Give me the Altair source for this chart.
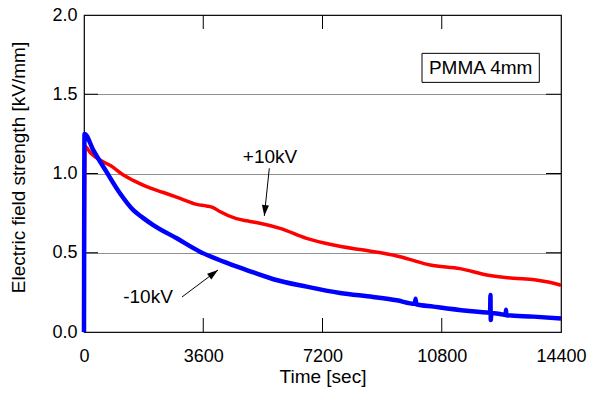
import altair as alt
import pandas as pd

# ---------------- data ----------------
red_t = [0, 30, 200, 480, 800, 1190, 1500, 1890, 2400, 2900, 3400, 3700, 3900,
         4100, 4600, 4950, 5310, 5920, 6720, 7530, 8330, 9040, 9540, 9800,
         10450, 11350, 12160, 12960, 13600, 13970, 14400]
red_e = [0.0, 1.17, 1.13, 1.085, 1.05, 0.99, 0.955, 0.917, 0.88, 0.843, 0.805, 0.795, 0.785,
         0.76, 0.715, 0.70, 0.686, 0.654, 0.591, 0.549, 0.52, 0.497, 0.475, 0.46,
         0.423, 0.40, 0.36, 0.339, 0.33, 0.317, 0.295]

blue_t = [0, 15, 280, 680, 1090, 1490, 1750, 2090, 2800, 3500, 4210, 4910, 5720,
          6720, 7730, 8730, 9440, 9990, 10010, 10030, 10550, 11550, 12260, 12270,
          12280, 12295, 12559, 12730, 12740, 12750, 13565, 14400]
blue_e = [0.0, 1.25, 1.148, 1.01, 0.874, 0.769, 0.725, 0.675, 0.591, 0.507, 0.444, 0.391, 0.333,
          0.286, 0.246, 0.221, 0.20, 0.178, 0.21, 0.175, 0.16, 0.134, 0.122, 0.233,
          0.076, 0.12, 0.114, 0.108, 0.14, 0.106, 0.097, 0.085]

x_ticks = [0, 3600, 7200, 10800, 14400]
y_ticks = [0.0, 0.5, 1.0, 1.5, 2.0]
inner_x_ticks = [3600, 7200, 10800]
inner_y_ticks = [0.5, 1.0, 1.5]

labels_text = ["+10kV", "-10kV"]
labels_t = [5615, 1932]
labels_e = [1.104, 0.221]
arrow_t1 = [5594, 2959]
arrow_e1 = [1.033, 0.221]
arrow_t2 = [5443, 4045]
arrow_e2 = [0.732, 0.391]
arrow_angle = [186, 53]

box_text = "PMMA 4mm"
box_t = [10204, 13745]
box_e = [1.575, 1.758]

# ---------------- build ----------------
FONT = "Liberation Sans"
W, H = 477, 317

red_df = pd.DataFrame({"t": red_t, "e": red_e})
blue_df = pd.DataFrame({"t": blue_t, "e": blue_e})
lab_df = pd.DataFrame({"t": labels_t, "e": labels_e, "txt": labels_text})
arr_df = pd.DataFrame({"t": arrow_t1, "e": arrow_e1, "t2": arrow_t2, "e2": arrow_e2})
head_df = pd.DataFrame({"t": arrow_t2, "e": arrow_e2, "ang": arrow_angle})
box_df = pd.DataFrame({"t": [box_t[0]], "t2": [box_t[1]], "e": [box_e[0]], "e2": [box_e[1]],
                       "tc": [(box_t[0] + box_t[1]) / 2], "ec": [(box_e[0] + box_e[1]) / 2],
                       "txt": [box_text]})
ix_df = pd.DataFrame({"t": inner_x_ticks})
iy_df = pd.DataFrame({"e": inner_y_ticks})

xs = alt.Scale(domain=[0, 14400], nice=False, zero=False)
ys = alt.Scale(domain=[0, 2], nice=False)

x_axis = alt.Axis(values=x_ticks, format="d", title="Time [sec]", grid=False, ticks=False,
                  tickSize=0, domain=False, labelPadding=15, labelFontSize=18, labelFont=FONT,
                  labelColor="black", titleFont=FONT, titleFontSize=19,
                  titleFontWeight="normal", titleColor="black", titleY=44,
                  titleBaseline="middle", labelFlush=False)
y_axis = alt.Axis(values=y_ticks, format=".1f", title="Electric field strength [kV/mm]",
                  grid=True, gridDash=[1, 1], gridColor="#222222", gridWidth=1,
                  ticks=False, tickSize=0, domain=False, labelPadding=7,
                  labelFontSize=18, labelFont=FONT, labelColor="black",
                  titleFont=FONT, titleFontSize=19, titleFontWeight="normal",
                  titleColor="black", titleX=-66, titleY=152, titleAngle=270,
                  titleAlign="center", titleBaseline="middle", labelFlush=False)

X = alt.X("t:Q", scale=xs, axis=x_axis)
Y = alt.Y("e:Q", scale=ys, axis=y_axis)

red_line = alt.Chart(red_df).mark_line(color="#ff0000", strokeWidth=3.5, clip=False,
                                       interpolate="monotone").encode(x=X, y=Y, order="t:Q")
blue_line = alt.Chart(blue_df).mark_line(color="#0000ff", strokeWidth=4.5, clip=False,
                                         interpolate="monotone").encode(x=X, y=Y, order="t:Q")

ytick_l = alt.Chart(iy_df).mark_rule(color="black", strokeWidth=1).encode(
    y=Y, x=alt.value(0), x2=alt.value(14))
ytick_r = alt.Chart(iy_df).mark_rule(color="black", strokeWidth=1).encode(
    y=Y, x=alt.value(W - 15), x2=alt.value(W))
xtick_b = alt.Chart(ix_df).mark_rule(color="black", strokeWidth=1).encode(
    x=X, y=alt.value(H - 14), y2=alt.value(H))
xtick_t = alt.Chart(ix_df).mark_rule(color="black", strokeWidth=1).encode(
    x=X, y=alt.value(0), y2=alt.value(14))

arrows = alt.Chart(arr_df).mark_rule(color="black", strokeWidth=1).encode(
    x=X, y=Y, x2="t2:Q", y2="e2:Q")
heads = alt.Chart(head_df).mark_point(
    shape="M0,0L0.32,1L-0.32,1Z", size=484, filled=True, color="black", opacity=1
).encode(x=X, y=Y, angle=alt.Angle("ang:Q", scale=None))
labels = alt.Chart(lab_df).mark_text(font=FONT, fontSize=19, color="black",
                                     align="center", baseline="middle").encode(
    x=X, y=Y, text="txt:N")

box = alt.Chart(box_df).mark_rect(fill="white", stroke="black", strokeWidth=1).encode(
    x=X, x2="t2:Q", y=Y, y2="e2:Q")
box_label = alt.Chart(box_df).mark_text(font=FONT, fontSize=19, color="black",
                                        align="center", baseline="middle").encode(
    x=alt.X("tc:Q", scale=xs, axis=x_axis), y=alt.Y("ec:Q", scale=ys, axis=y_axis),
    text="txt:N")

chart = alt.layer(
    ytick_l, ytick_r, xtick_b, xtick_t, red_line, blue_line, arrows, heads, labels,
    box, box_label
).properties(
    width=W, height=H,
    autosize=alt.AutoSizeParams(type="none"),
    padding={"left": 84, "top": 15, "right": 29, "bottom": 61},
    background="white",
).configure_view(stroke="black", strokeWidth=1.2)

chart.save("out.html", embed_options={"renderer": "svg", "actions": False})
